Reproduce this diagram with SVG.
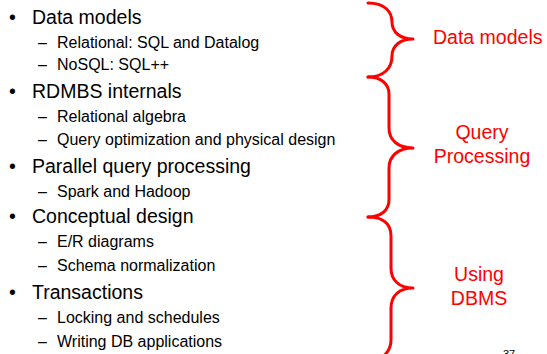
<svg xmlns="http://www.w3.org/2000/svg" width="547" height="354" viewBox="0 0 547 354">
<style>
text{font-family:"Liberation Sans",Arial,sans-serif;fill:#000}
.b{font-size:19.5px}
.s{font-size:16px}
.r{font-size:19.5px;fill:#ff0000}
.c{text-anchor:middle}
.br{fill:none;stroke:#ff0000;stroke-width:3;stroke-linecap:round;stroke-linejoin:round}
</style>
<rect width="547" height="354" fill="#fff"/>
<g id="list">
<text class="b" x="9" y="24">•</text><text class="b" x="32" y="24">Data models</text>
<text class="s" x="38" y="48">–</text><text class="s" x="57" y="48">Relational: SQL and Datalog</text>
<text class="s" x="38" y="70">–</text><text class="s" x="57" y="70">NoSQL: SQL++</text>
<text class="b" x="9" y="98">•</text><text class="b" x="32" y="98">RDMBS internals</text>
<text class="s" x="38" y="122">–</text><text class="s" x="57" y="122">Relational algebra</text>
<text class="s" x="38" y="145">–</text><text class="s" x="57" y="145">Query optimization and physical design</text>
<text class="b" x="9" y="173">•</text><text class="b" x="32" y="173">Parallel query processing</text>
<text class="s" x="38" y="197">–</text><text class="s" x="57" y="197">Spark and Hadoop</text>
<text class="b" x="9" y="223">•</text><text class="b" x="32" y="223">Conceptual design</text>
<text class="s" x="38" y="247">–</text><text class="s" x="57" y="247">E/R diagrams</text>
<text class="s" x="38" y="271">–</text><text class="s" x="57" y="271">Schema normalization</text>
<text class="b" x="9" y="299">•</text><text class="b" x="32" y="299">Transactions</text>
<text class="s" x="38" y="323">–</text><text class="s" x="57" y="323">Locking and schedules</text>
<text class="s" x="38" y="347">–</text><text class="s" x="57" y="347">Writing DB applications</text>
</g>
<g id="braces">
<path class="br" d="M368,3 C385,3 392,12 392,22 C392,32 400,39 413,39 C400,39 392,46 392,56 C392,68 384,77 368,77"/>
<path class="br" d="M368,77 C381,77 389,84 389,94 L389,128 C389,140 398,148 413,148 C398,148 389,156 389,168 L389,200 C389,210 381,217 368,217"/>
<path class="br" d="M368,217 C383,217 391,224 391,236 L391,268 C391,280 399,288 413,288 C399,288 391,296 391,308 L391,340 C391,350 385,356 378,360"/>
</g>
<g id="labels">
<text class="r" x="433" y="44">Data models</text>
<text class="r c" x="482" y="139">Query</text>
<text class="r c" x="482" y="163">Processing</text>
<text class="r c" x="479" y="281">Using</text>
<text class="r c" x="479" y="305">DBMS</text>
<text x="503" y="358" style="font-size:11px">37</text>
</g>
</svg>
